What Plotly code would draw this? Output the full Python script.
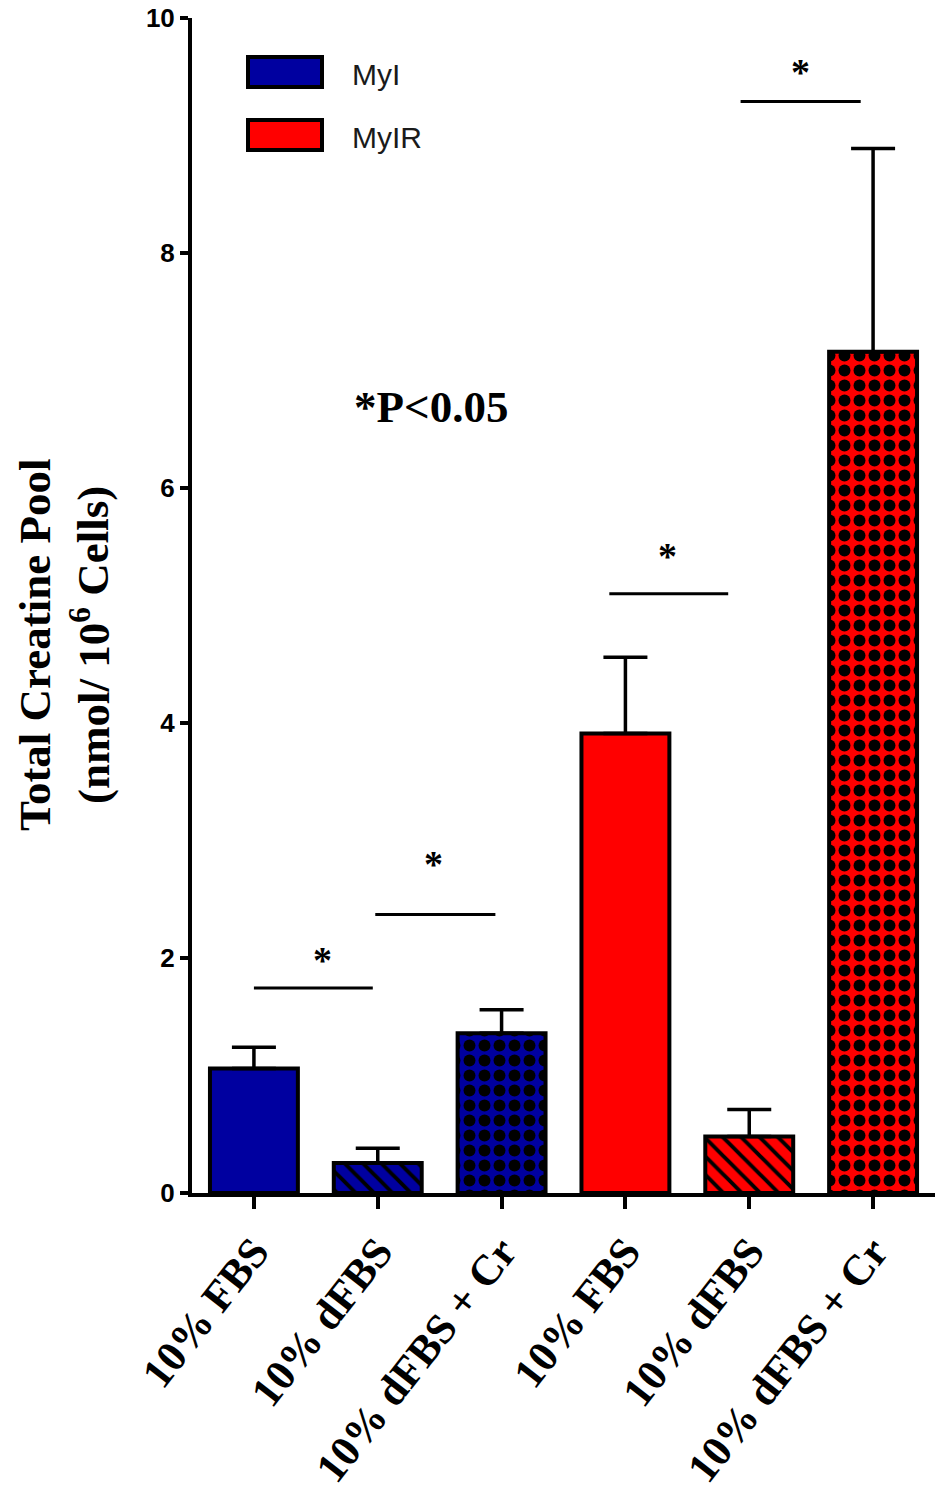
import plotly.graph_objects as go

# ---- data ----
categories = ["10% FBS", "10% dFBS", "10% dFBS + Cr", "10% FBS", "10% dFBS", "10% dFBS + Cr"]
groups = ["MyI", "MyI", "MyI", "MyIR", "MyIR", "MyIR"]
values = [1.06, 0.255, 1.36, 3.91, 0.48, 7.16]
errors = [0.18, 0.125, 0.20, 0.65, 0.23, 1.73]
patterns = ["", "\\", ".", "", "\\", "."]
group_colors = {"MyI": "#0000A0", "MyIR": "#FF0000"}

# significance brackets
sig_x0 = [0.0, 0.98, 2.87, 3.93]
sig_x1 = [0.96, 1.95, 3.83, 4.90]
sig_y = [1.745, 2.37, 5.10, 9.29]
star_x = [0.55, 1.45, 3.34, 4.41]
star_y = [1.98, 2.80, 5.42, 9.54]

yticks = [0, 2, 4, 6, 8, 10]

OFF = 8  # page body margin
L, R, T, B = 192 - OFF, 11, 18 - OFF, 307
W, H = 946 - OFF, 1500 - OFF
pw = W - L - R
ph = H - T - B


def px_x(p):
    return (p - OFF - L) / pw


def px_y(p):
    return (H - B - (p - OFF)) / ph


fig = go.Figure()
xs = list(range(len(categories)))
for i in xs:
    col = group_colors[groups[i]]
    hatch = patterns[i] == "\\"
    fig.add_trace(go.Bar(
        x=[i], y=[values[i]],
        width=0.71,
        marker=dict(
            color=col,
            line=dict(color="black", width=4),
            pattern=dict(shape=patterns[i], fgcolor="black", bgcolor=col,
                         size=13 if hatch else 15,
                         solidity=0.3 if hatch else 0.5,
                         fillmode="replace"),
        ),
        error_y=dict(type="data", array=[errors[i]], arrayminus=[0], symmetric=False,
                     color="black", thickness=3.5, width=22),
        showlegend=False,
    ))

shapes = []
annotations = []
for x0, x1, y, sx, sy in zip(sig_x0, sig_x1, sig_y, star_x, star_y):
    shapes.append(dict(type="line", xref="x", yref="y", x0=x0, x1=x1, y0=y, y1=y,
                       line=dict(color="black", width=3)))
    annotations.append(dict(xref="x", yref="y", x=sx, y=sy, text="<b>*</b>", showarrow=False,
                            font=dict(family="Liberation Serif", size=38, color="black")))

# legend drawn manually
leg_y = [(57, 87), (120, 150)]
for (y0, y1), name in zip(leg_y, ["MyI", "MyIR"]):
    shapes.append(dict(type="rect", xref="paper", yref="paper",
                       x0=px_x(248), x1=px_x(322), y0=px_y(y1), y1=px_y(y0),
                       fillcolor=group_colors[name], line=dict(color="black", width=4)))
    annotations.append(dict(xref="paper", yref="paper", x=px_x(350), y=px_y((y0 + y1) / 2 + 2),
                            xanchor="left", yanchor="middle", text=name, showarrow=False,
                            font=dict(family="Liberation Sans", size=30, color="#1a1a1a")))

annotations.append(dict(xref="paper", yref="paper", x=px_x(352), y=px_y(407),
                        xanchor="left", yanchor="middle", text="<b>*P<0.05</b>", showarrow=False,
                        font=dict(family="Liberation Serif", size=45, color="black")))

annotations.append(dict(xref="paper", yref="paper", x=px_x(64), y=px_y(645),
                        xanchor="center", yanchor="middle", textangle=-90,
                        text="<b>Total Creatine Pool<br>(nmol/ 10<sup>6</sup> Cells)</b>",
                        showarrow=False,
                        font=dict(family="Liberation Serif", size=45, color="black")))

fig.update_layout(
    width=W, height=H,
    margin=dict(l=L, r=R, t=T, b=B),
    paper_bgcolor="white", plot_bgcolor="white",
    shapes=shapes, annotations=annotations,
    bargap=0.29,
    xaxis=dict(range=[-0.5, 5.5], tickmode="array", tickvals=xs,
               ticktext=["<b>" + c + "</b>" for c in categories],
               tickangle=-52, ticks="outside", ticklen=12, tickwidth=4, tickcolor="black",
               showline=True, linecolor="black", linewidth=4, showgrid=False, zeroline=False,
               automargin=False, ticklabeloverflow="allow",
               tickfont=dict(family="Liberation Serif", size=43, color="black")),
    yaxis=dict(range=[0, 10], tickmode="array", tickvals=yticks,
               ticktext=["<b>%d</b>" % v for v in yticks],
               ticks="outside", ticklen=8, tickwidth=4, tickcolor="black",
               showline=True, linecolor="black", linewidth=4, showgrid=False, zeroline=False,
               automargin=False, ticklabeloverflow="allow",
               tickfont=dict(family="Liberation Sans", size=26, color="black")),
)

fig.write_html("out.html")
